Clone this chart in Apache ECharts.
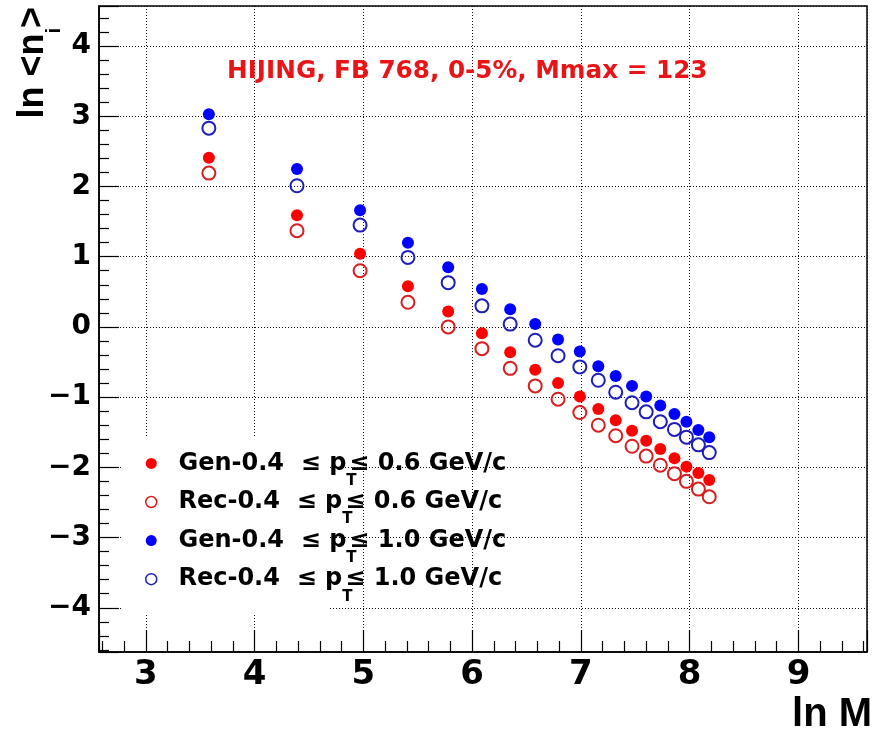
<!DOCTYPE html>
<html>
<head>
<meta charset="utf-8">
<script src="https://cdn.jsdelivr.net/npm/echarts@6/dist/echarts.min.js"></script>
<style>
  html, body { margin: 0; padding: 0; background: #fff; }
  #chart { width: 873px; height: 730px; }
</style>
</head>
<body>
<div id="chart"></div>
<script>
// ln M for each binning
const lnM = [3.58, 4.39, 4.97, 5.41, 5.78, 6.09, 6.35, 6.58, 6.79, 6.99, 7.16, 7.32, 7.47, 7.60, 7.73, 7.86, 7.97, 8.08, 8.18];

// ln <n_i> for 0.4 <= pT <= 0.6 GeV/c
const genLow = [2.41, 1.59, 1.04, 0.58, 0.22, -0.09, -0.36, -0.61, -0.80, -0.99, -1.17, -1.33, -1.48, -1.62, -1.74, -1.87, -1.99, -2.08, -2.18];
const recLow = [2.19, 1.37, 0.80, 0.35, 0.00, -0.31, -0.59, -0.84, -1.03, -1.22, -1.40, -1.55, -1.70, -1.84, -1.97, -2.09, -2.20, -2.31, -2.42];

// ln <n_i> for 0.4 <= pT <= 1.0 GeV/c
const genHigh = [3.03, 2.25, 1.66, 1.20, 0.85, 0.54, 0.25, 0.04, -0.18, -0.35, -0.56, -0.70, -0.84, -0.99, -1.12, -1.24, -1.35, -1.47, -1.57];
const recHigh = [2.83, 2.01, 1.45, 0.99, 0.63, 0.30, 0.04, -0.19, -0.41, -0.57, -0.76, -0.93, -1.08, -1.21, -1.35, -1.46, -1.57, -1.68, -1.79];

// tick labels
const xTickLabels = ['3', '4', '5', '6', '7', '8', '9'];
const yTickLabels = ['-4', '-3', '-2', '-1', '0', '1', '2', '3', '4'];

// legend pieces
const legendPrefix = ['Gen-0.4', 'Rec-0.4', 'Gen-0.4', 'Rec-0.4'];
const legendUpper = ['0.6', '0.6', '1.0', '1.0'];
const titleText = 'HIJING, FB 768, 0-5%, Mmax = 123';

const LABEL_FONT = 'DejaVu Sans';
const TITLE_FONT = 'Liberation Sans';
const RED = '#ff0000', RED_OPEN = '#d81e1e', BLUE = '#0000ff', BLUE_OPEN = '#1e1eb8';

const seriesNames = legendPrefix.map((p, i) => p + '  \u2264 pT\u2264 ' + legendUpper[i] + ' GeV/c');

function pairs(ys) { return lnM.map((x, i) => [x, ys[i]]); }

function fullSeries(name, ys, color) {
  return {
    name, type: 'scatter', data: pairs(ys), symbol: 'circle', symbolSize: 12,
    itemStyle: { color: color, opacity: 1 }, z: 3
  };
}
function openSeries(name, ys, color) {
  return {
    name, type: 'scatter', data: pairs(ys), symbol: 'circle', symbolSize: 13,
    itemStyle: { color: 'rgba(0,0,0,0)', borderColor: color, borderWidth: 2, opacity: 1 }, z: 3
  };
}

function tickFormatter(list) {
  return function (v) {
    const s = String(Math.round(v));
    if (Math.abs(v - Math.round(v)) > 1e-6 || list.indexOf(s) < 0) return '';
    return s.replace('-', '\u2212');
  };
}

const chart = echarts.init(document.getElementById('chart'), null, { renderer: 'canvas' });

const option = {
  animation: false,
  backgroundColor: '#fff',
  title: {
    text: titleText, left: 227, top: 59, padding: 0,
    textStyle: { color: '#e81418', fontFamily: LABEL_FONT, fontWeight: 'bold', fontSize: 24.7 }
  },
  grid: {
    left: 99, right: 6, top: 6, bottom: 78,
    show: true, borderColor: '#000', borderWidth: 1.5, backgroundColor: 'rgba(0,0,0,0)'
  },
  xAxis: {
    type: 'value', min: 2.57, max: 9.63, minInterval: 1, maxInterval: 1,
    axisLine: { show: true, onZero: false, lineStyle: { color: '#000', width: 1.5 } },
    axisTick: { show: true, inside: true, length: 22, lineStyle: { color: '#000', width: 1.2 } },
    minorTick: { show: true, splitNumber: 5, length: 11, lineStyle: { color: '#000', width: 1.2 } },
    splitLine: { show: true, lineStyle: { color: '#111', width: 1, type: [1, 2] } },
    axisLabel: {
      margin: 6, color: '#000', fontFamily: LABEL_FONT, fontWeight: 'bold', fontSize: 34,
      formatter: tickFormatter(xTickLabels)
    }
  },
  yAxis: {
    type: 'value', min: -4.63, max: 4.57, minInterval: 1, maxInterval: 1,
    axisLine: { show: true, onZero: false, lineStyle: { color: '#000', width: 1.5 } },
    axisTick: { show: true, inside: true, length: 20, lineStyle: { color: '#000', width: 1.2 } },
    minorTick: { show: true, splitNumber: 5, length: 10, lineStyle: { color: '#000', width: 1.2 } },
    splitLine: { show: true, lineStyle: { color: '#111', width: 1, type: [1, 2] } },
    axisLabel: {
      margin: 8, color: '#000', fontFamily: LABEL_FONT, fontWeight: 'bold', fontSize: 28,
      formatter: tickFormatter(yTickLabels)
    }
  },
  legend: {
    orient: 'vertical', left: 145, top: 451.4, padding: 0,
    itemGap: 1.6, itemWidth: 11, itemHeight: 11, icon: 'circle', selectedMode: false,
    data: seriesNames.map((n, i) => i % 2 ? { name: n, itemStyle: { borderWidth: 1.5 } } : { name: n }),
    formatter: function (name) {
      const i = seriesNames.indexOf(name);
      return '{a|  ' + legendPrefix[i] + '  \u2264 p}{s|T}{a|\u2264 ' + legendUpper[i] + ' GeV/c}';
    },
    textStyle: {
      rich: {
        a: { fontFamily: LABEL_FONT, fontWeight: 'bold', fontSize: 24, color: '#000', lineHeight: 50 },
        s: { fontFamily: LABEL_FONT, fontWeight: 'bold', fontSize: 15, color: '#000', lineHeight: 16, verticalAlign: 'bottom', width: 3 }
      }
    }
  },
  graphic: [
    // white legend pad hiding the grid
    { type: 'rect', z: 1, silent: true, shape: { x: 122, y: 438, width: 206, height: 175 }, style: { fill: '#fff' } },
    // y axis title
    {
      type: 'text', x: 33, y: 7, rotation: Math.PI / 2, z: 5,
      style: {
        text: '{a|ln <n}{s|i}{a|>}', align: 'right', verticalAlign: 'middle',
        rich: {
          a: { fontFamily: TITLE_FONT, fontWeight: 'bold', fontSize: 36, lineHeight: 62, fill: '#000' },
          s: { fontFamily: TITLE_FONT, fontWeight: 'bold', fontSize: 20, lineHeight: 20, verticalAlign: 'bottom', fill: '#000' }
        }
      }
    },
    // x axis title
    {
      type: 'text', x: 872, y: 715, z: 5,
      style: { text: 'ln M', align: 'right', verticalAlign: 'middle', fontFamily: TITLE_FONT, fontWeight: 'bold', fontSize: 40, fill: '#000' }
    }
  ],
  series: [
    fullSeries(seriesNames[0], genLow, RED),
    openSeries(seriesNames[1], recLow, RED_OPEN),
    fullSeries(seriesNames[2], genHigh, BLUE),
    openSeries(seriesNames[3], recHigh, BLUE_OPEN)
  ]
};

chart.setOption(option);
</script>
</body>
</html>
